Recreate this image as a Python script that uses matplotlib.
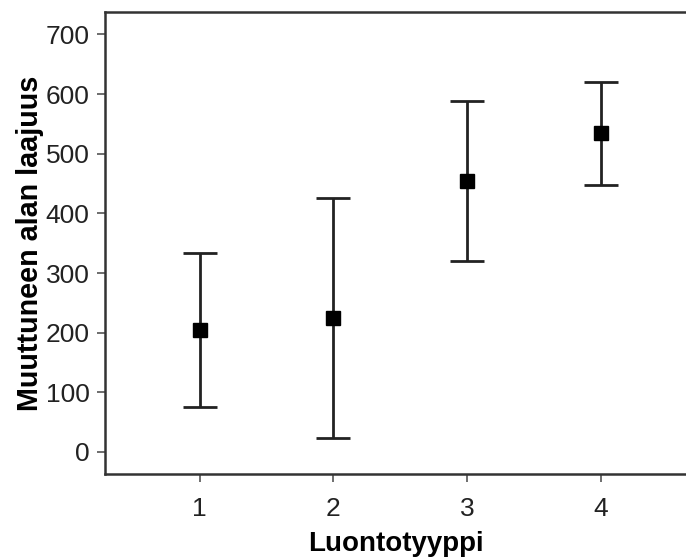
import numpy as np
import matplotlib
matplotlib.use("Agg")
import matplotlib.pyplot as plt

plt.rcParams['font.family'] = ['Liberation Sans', 'DejaVu Sans']

# data
groups = [1, 2, 3, 4]
means = [205, 225, 455, 534]
upper = [334, 426, 589, 621]
lower = [75, 24, 320, 448]

err_low = np.array(means) - np.array(lower)
err_high = np.array(upper) - np.array(means)

fig = plt.figure(figsize=(6.86, 5.59), dpi=100)
ax = fig.add_axes([0.153, 0.152, 0.847, 0.827])

ax.errorbar(groups, means, yerr=[err_low, err_high], fmt='s', color='black',
            ecolor='#222222', elinewidth=2, capsize=12, capthick=2,
            markersize=10, markeredgecolor='black')

ax.set_xlim(0.29, 4.64)
ax.set_ylim(-37, 738)
ax.set_xticks(groups)
ax.set_yticks(range(0, 800, 100))

ax.spines['right'].set_visible(False)
for s in ['left', 'bottom', 'top']:
    ax.spines[s].set_color('#333333')
    ax.spines[s].set_linewidth(1.8)

ax.tick_params(direction='out', length=6, width=1.2, color='#555555',
               labelsize=19, labelcolor='#222222', pad=5)
ax.tick_params(axis='x', pad=10.5)

ax.set_xlabel('Luontotyyppi', fontsize=20, fontweight='bold', labelpad=7)
ax.set_ylabel('Muuttuneen alan laajuus', fontsize=20.7, fontweight='bold', labelpad=1.5)

fig.savefig('out.png', dpi=100)
